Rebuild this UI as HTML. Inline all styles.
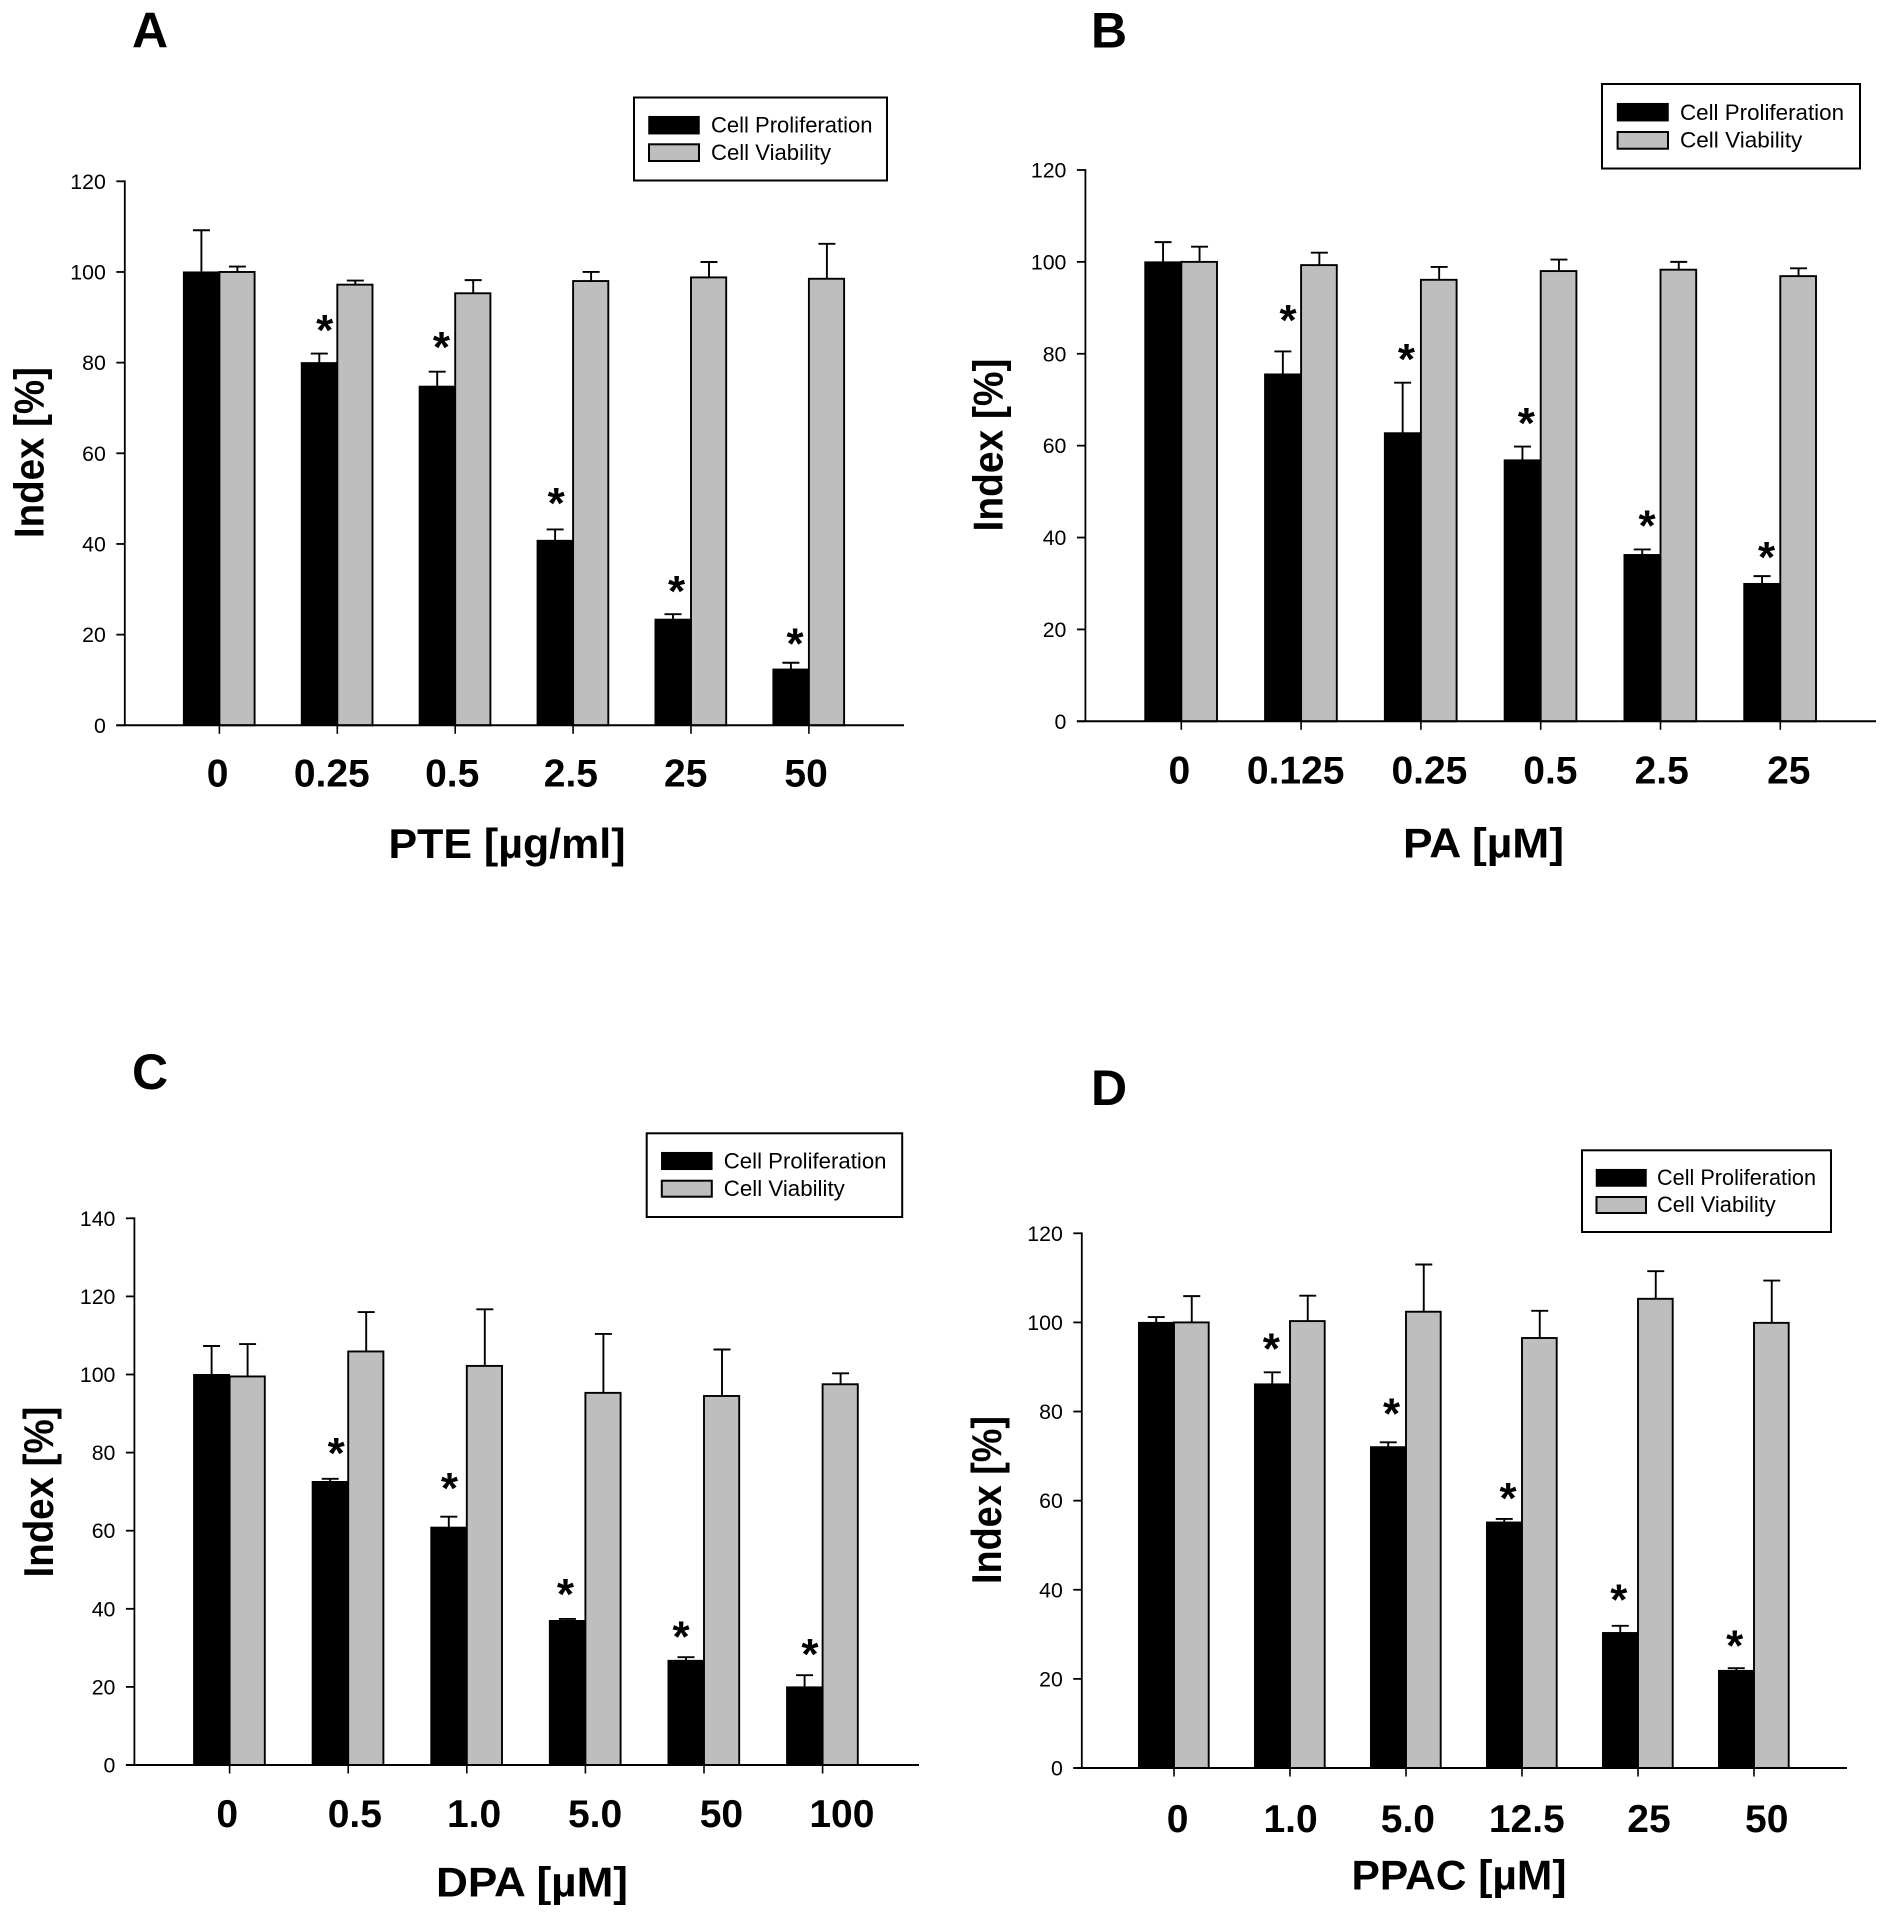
<!DOCTYPE html>
<html lang="en">
<head>
<meta charset="utf-8">
<title>Cell proliferation and viability panels</title>
<style>
html,body{margin:0;padding:0;background:#fff;}
#figure{display:block;width:1890px;height:1918px;background:#fff;}
text{font-family:"Liberation Sans",Arial,sans-serif;fill:#000;}
.panel-letter{font-size:50px;font-weight:bold;}
.x-title,.y-title{font-size:42px;font-weight:bold;}
.legend-text{font-size:22px;}
.legend-box{fill:#fff;stroke:#000;stroke-width:2;}
.swatch-black{fill:#000;stroke:#000;stroke-width:1.5;}
.swatch-grey{fill:#bebebe;stroke:#000;stroke-width:2;}
.y-tick-label{font-size:21.3px;text-anchor:end;}
.x-tick-label{font-size:39px;font-weight:bold;text-anchor:middle;}
.star{font-size:44px;font-weight:bold;text-anchor:middle;}
</style>
</head>
<body>
<svg id="figure" xmlns="http://www.w3.org/2000/svg" width="1890" height="1918" viewBox="0 0 1890 1918">
  <rect x="0" y="0" width="1890" height="1918" fill="#fff"/>

  <g id="panel-a">
    <text class="panel-letter" x="132" y="47.7">A</text>
    <text class="y-title" transform="translate(43.4,452.6) rotate(-90)" text-anchor="middle" textLength="171" lengthAdjust="spacingAndGlyphs">Index [%]</text>
    <text class="x-title" x="388.5" y="858" textLength="237" lengthAdjust="spacingAndGlyphs">PTE [µg/ml]</text>
  </g>
  <g id="panel-b">
    <text class="panel-letter" x="1091" y="47.7">B</text>
    <text class="y-title" transform="translate(1002.3,445) rotate(-90)" text-anchor="middle" textLength="173" lengthAdjust="spacingAndGlyphs">Index [%]</text>
    <text class="x-title" x="1403" y="857.3" textLength="161" lengthAdjust="spacingAndGlyphs">PA [µM]</text>
  </g>
  <g id="panel-c">
    <text class="panel-letter" x="132" y="1089">C</text>
    <text class="y-title" transform="translate(53,1492) rotate(-90)" text-anchor="middle" textLength="171" lengthAdjust="spacingAndGlyphs">Index [%]</text>
    <text class="x-title" x="436" y="1896.3" textLength="192" lengthAdjust="spacingAndGlyphs">DPA [µM]</text>
  </g>
  <g id="panel-d">
    <text class="panel-letter" x="1091" y="1105">D</text>
    <text class="y-title" transform="translate(1001,1500) rotate(-90)" text-anchor="middle" textLength="168" lengthAdjust="spacingAndGlyphs">Index [%]</text>
    <text class="x-title" x="1351.5" y="1889.7" textLength="215" lengthAdjust="spacingAndGlyphs">PPAC [µM]</text>
  </g>

  <g>
    <rect class="legend-box" x="634" y="97.5" width="253" height="83"/>
    <rect class="swatch-black" x="649" y="116.7" width="50" height="17"/>
    <text class="legend-text" x="711" y="132.7" textLength="161.5" lengthAdjust="spacingAndGlyphs">Cell Proliferation</text>
    <rect class="swatch-grey" x="649" y="144.3" width="50" height="16.7"/>
    <text class="legend-text" x="711" y="160" textLength="120" lengthAdjust="spacingAndGlyphs">Cell Viability</text>
  </g>
  <g>
    <rect class="legend-box" x="1602" y="84" width="258" height="84.5"/>
    <rect class="swatch-black" x="1617.6" y="103.7" width="50.4" height="17"/>
    <text class="legend-text" x="1680" y="120" textLength="164" lengthAdjust="spacingAndGlyphs">Cell Proliferation</text>
    <rect class="swatch-grey" x="1617.6" y="132" width="50.4" height="16.7"/>
    <text class="legend-text" x="1680" y="147.3" textLength="122.3" lengthAdjust="spacingAndGlyphs">Cell Viability</text>
  </g>
  <g>
    <rect class="legend-box" x="646.7" y="1133.3" width="255.5" height="83.7"/>
    <rect class="swatch-black" x="661.8" y="1152.7" width="50" height="16.6"/>
    <text class="legend-text" x="723.8" y="1168.3" textLength="162.7" lengthAdjust="spacingAndGlyphs">Cell Proliferation</text>
    <rect class="swatch-grey" x="661.8" y="1180.7" width="50" height="16"/>
    <text class="legend-text" x="723.8" y="1196" textLength="121" lengthAdjust="spacingAndGlyphs">Cell Viability</text>
  </g>
  <g>
    <rect class="legend-box" x="1582" y="1150.3" width="249" height="81.7"/>
    <rect class="swatch-black" x="1596.5" y="1169.7" width="49.5" height="16.3"/>
    <text class="legend-text" x="1657" y="1185" textLength="159" lengthAdjust="spacingAndGlyphs">Cell Proliferation</text>
    <rect class="swatch-grey" x="1596.5" y="1197" width="49.5" height="16"/>
    <text class="legend-text" x="1657" y="1212" textLength="118.7" lengthAdjust="spacingAndGlyphs">Cell Viability</text>
  </g>
</svg>

<script>
// Panel A data
const aCategories = ["0", "0.25", "0.5", "2.5", "25", "50"];
const aProliferation = [100, 80, 74.8, 40.8, 23.4, 12.4];
const aProliferationErr = [9.2, 2, 3.2, 2.4, 1.1, 1.4];
const aViability = [100, 97.2, 95.3, 98, 98.8, 98.5];
const aViabilityErr = [1.2, 0.9, 2.9, 2, 3.4, 7.7];
const aStarLevels = [null, 88.3, 84.6, 50.1, 30.7, 19.2];
const aYTicks = [0, 20, 40, 60, 80, 100, 120];

// Panel B data
const bCategories = ["0", "0.125", "0.25", "0.5", "2.5", "25"];
const bProliferation = [100, 75.6, 62.8, 56.9, 36.3, 30];
const bProliferationErr = [4.3, 4.9, 10.9, 2.9, 1.1, 1.6];
const bViability = [100, 99.3, 96.1, 98, 98.3, 96.9];
const bViabilityErr = [3.3, 2.7, 2.8, 2.5, 1.7, 1.7];
const bStarLevels = [null, 88.4, 79.9, 66, 43.7, 36.8];
const bYTicks = [0, 20, 40, 60, 80, 100, 120];

// Panel C data
const cCategories = ["0", "0.5", "1.0", "5.0", "50", "100"];
const cProliferation = [100, 72.6, 60.9, 37, 26.8, 20];
const cProliferationErr = [7.3, 0.7, 2.7, 0.4, 0.8, 3];
const cViability = [99.5, 105.9, 102.2, 95.3, 94.5, 97.5];
const cViabilityErr = [8.3, 10.1, 14.5, 15.1, 11.9, 2.8];
const cStarLevels = [null, 81.2, 72.2, 45.1, 34.2, 29.7];
const cYTicks = [0, 20, 40, 60, 80, 100, 120, 140];

// Panel D data
const dCategories = ["0", "1.0", "5.0", "12.5", "25", "50"];
const dProliferation = [100, 86.2, 72.1, 55.2, 30.4, 21.9];
const dProliferationErr = [1.2, 2.6, 1, 0.7, 1.5, 0.5];
const dViability = [100, 100.3, 102.4, 96.5, 105.3, 99.9];
const dViabilityErr = [5.9, 5.7, 10.6, 6.1, 6.2, 9.5];
const dStarLevels = [null, 95.3, 80.7, 61.7, 38.9, 28.6];
const dYTicks = [0, 20, 40, 60, 80, 100, 120];

const SVG_NS = "http://www.w3.org/2000/svg";

function make(parent, tag, attrs, text) {
  const el = document.createElementNS(SVG_NS, tag);
  for (const k in attrs) el.setAttribute(k, attrs[k]);
  if (text !== undefined) el.textContent = text;
  parent.appendChild(el);
  return el;
}

function drawPanel(cfg) {
  const root = document.getElementById(cfg.id);
  const prefix = cfg.id;
  const yMax = cfg.yTicks[cfg.yTicks.length - 1];
  const yOf = function (v) { return cfg.y0 - (v / yMax) * (cfg.y0 - cfg.yTop); };
  const xOf = function (i) { return cfg.x0 + i * cfg.step; };
  const barW = cfg.barW;
  const capHalf = 8.5;
  const sw = 1.9;

  const plot = make(root, "g", {});
  
  

  cfg.categories.forEach(function (cat, i) {
    const cx = xOf(i);
    const pVal = cfg.proliferation[i];
    const vVal = cfg.viability[i];
    const pTop = pVal + cfg.proliferationErr[i];
    const vTop = vVal + cfg.viabilityErr[i];
    const pMid = cx - barW / 2;
    const vMid = cx + barW / 2;

    const vStem = make(plot, "line", {x1: vMid, x2: vMid, y1: yOf(vVal), y2: yOf(vTop), stroke: "#000", "stroke-width": sw});
    
    
    const vCap = make(plot, "line", {x1: vMid - capHalf, x2: vMid + capHalf, y1: yOf(vTop), y2: yOf(vTop), stroke: "#000", "stroke-width": sw});
    
    
    const vBar = make(plot, "rect", {x: cx, y: yOf(vVal), width: barW - 0.8, height: cfg.y0 - yOf(vVal), fill: "#bebebe", stroke: "#000", "stroke-width": sw});
    
    

    const pStem = make(plot, "line", {x1: pMid, x2: pMid, y1: yOf(pVal), y2: yOf(pTop), stroke: "#000", "stroke-width": sw});
    
    
    const pCap = make(plot, "line", {x1: pMid - capHalf, x2: pMid + capHalf, y1: yOf(pTop), y2: yOf(pTop), stroke: "#000", "stroke-width": sw});
    
    
    const pBar = make(plot, "rect", {x: cx - barW, y: yOf(pVal), width: barW, height: cfg.y0 - yOf(pVal), fill: "#000", stroke: "#000", "stroke-width": 1});
    
    

    if (cfg.starLevels[i] !== null) {
      const star = make(plot, "text", {"class": "star", x: cx + cfg.starDx[i], y: yOf(cfg.starLevels[i]) + 20}, "*");
      
      
    }

    const tick = make(plot, "line", {x1: cx, x2: cx, y1: cfg.y0, y2: cfg.y0 + 8.5, stroke: "#000", "stroke-width": 1.6});
    
    
    const label = make(plot, "text", {"class": "x-tick-label", x: cx + cfg.labelDx[i], y: cfg.labelY}, cat);
    
    
  });

  cfg.yTicks.forEach(function (t) {
    const tick = make(plot, "line", {x1: cfg.axisX - 8.5, x2: cfg.axisX, y1: yOf(t), y2: yOf(t), stroke: "#000", "stroke-width": 1.8});
    
    
    const label = make(plot, "text", {"class": "y-tick-label", x: cfg.axisX - 19, y: yOf(t) + 7.5}, String(t));
    
    
  });

  const yAxis = make(plot, "line", {x1: cfg.axisX, x2: cfg.axisX, y1: cfg.yTop - 0.9, y2: cfg.y0, stroke: "#000", "stroke-width": 1.8});
  
  
  const xAxis = make(plot, "line", {x1: cfg.axisX - 8.5, x2: cfg.xEnd, y1: cfg.y0, y2: cfg.y0, stroke: "#000", "stroke-width": 2});
  
  
}

drawPanel({
  id: "panel-a", categories: aCategories, proliferation: aProliferation, proliferationErr: aProliferationErr,
  viability: aViability, viabilityErr: aViabilityErr, starLevels: aStarLevels, yTicks: aYTicks,
  axisX: 124.8, xEnd: 904, y0: 725.3, yTop: 181.3, x0: 219.4, step: 117.9, barW: 36, labelY: 786.7,
  labelDx: [-1.8, -5.5, -3, -2.2, -5.3, -2.8], starDx: [0, -12.6, -13.8, -16.9, -14.5, -13.8]
});
drawPanel({
  id: "panel-b", categories: bCategories, proliferation: bProliferation, proliferationErr: bProliferationErr,
  viability: bViability, viabilityErr: bViabilityErr, starLevels: bStarLevels, yTicks: bYTicks,
  axisX: 1085.4, xEnd: 1876, y0: 721.3, yTop: 170, x0: 1181.3, step: 119.8, barW: 36.5, labelY: 783.3,
  labelDx: [-2, -5.4, 8.5, 9.7, 1.2, 8.5], starDx: [0, -13, -14.5, -14.4, -13.4, -13.8]
});
drawPanel({
  id: "panel-c", categories: cCategories, proliferation: cProliferation, proliferationErr: cProliferationErr,
  viability: cViability, viabilityErr: cViabilityErr, starLevels: cStarLevels, yTicks: cYTicks,
  axisX: 134.4, xEnd: 919, y0: 1765, yTop: 1218.3, x0: 229.6, step: 118.6, barW: 36, labelY: 1827,
  labelDx: [-2.4, 6.6, 7.3, 9.7, 17.4, 19.3], starDx: [0, -12, -17.4, -20, -23, -12.7]
});
drawPanel({
  id: "panel-d", categories: dCategories, proliferation: dProliferation, proliferationErr: dProliferationErr,
  viability: dViability, viabilityErr: dViabilityErr, starLevels: dStarLevels, yTicks: dYTicks,
  axisX: 1081.8, xEnd: 1847, y0: 1768, yTop: 1233.3, x0: 1174, step: 116, barW: 35.5, labelY: 1832,
  labelDx: [3.6, 0.6, 1.9, 4.8, 11, 12.7], starDx: [0, -18.7, -14.4, -13.9, -19.2, -19.3]
});
</script>
</body>
</html>
